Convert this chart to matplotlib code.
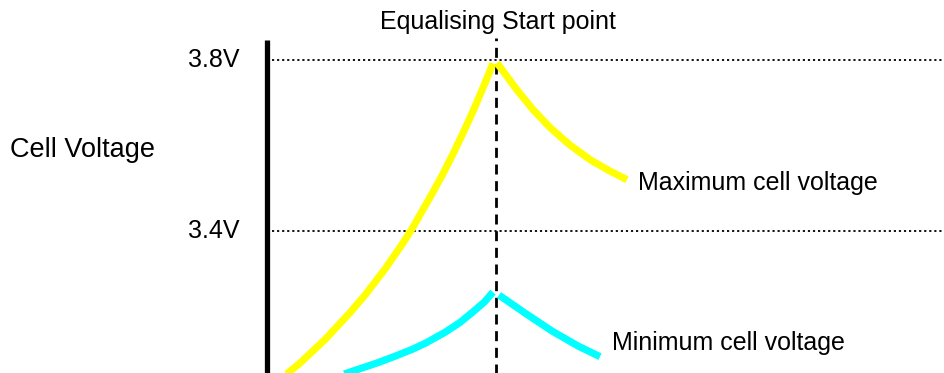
import matplotlib.pyplot as plt

plt.rcParams['font.family'] = ['Liberation Sans', 'DejaVu Sans']

# time (arbitrary units, 0 = axis) and cell voltage
max_rise_t = [13, 21, 33, 58, 83, 98, 118, 136, 145, 155, 166, 176, 186, 196, 206, 216, 226]
max_rise_v = [3.053, 3.068, 3.091, 3.146, 3.209, 3.250, 3.311, 3.372, 3.405, 3.446,
              3.491, 3.534, 3.580, 3.629, 3.680, 3.735, 3.792]
max_fall_t = [230, 250, 266, 283, 303, 323, 343, 360]
max_fall_v = [3.793, 3.730, 3.684, 3.642, 3.601, 3.567, 3.540, 3.520]

min_rise_t = [73, 83, 111, 128, 145, 158, 178, 193, 205, 217, 226]
min_rise_v = [3.062, 3.070, 3.092, 3.107, 3.123, 3.137, 3.163, 3.186, 3.209, 3.233, 3.257]
min_fall_t = [232, 258, 285, 311, 333]
min_fall_v = [3.250, 3.208, 3.166, 3.131, 3.106]

levels = [3.8, 3.4]
level_labels = ['3.8V', '3.4V']
start_t = 229

fig = plt.figure(figsize=(9.45, 3.73), dpi=100)
ax = fig.add_axes([0, 0, 1, 1])
ax.set_xlim(-267, 678)
ax.set_ylim(3.0678, 3.9404)
ax.axis('off')

# reference levels
for v, lab in zip(levels, level_labels):
    ax.plot([5, 678], [v, v], color='black', lw=1.3, linestyle=(0, (1.2, 1.6)))
    ax.text(-27, v, lab, ha='right', va='center', fontsize=18)

# vertical axis and equalising marker
ax.plot([0, 0], [3.0, 3.847], color='black', lw=3.8, solid_capstyle='butt')
ax.plot([start_t, start_t], [3.0, 3.852], color='black', lw=2.0,
        linestyle=(0, (3.6, 2.4)))

# voltage curves
for t, v in [(max_rise_t, max_rise_v), (max_fall_t, max_fall_v)]:
    ax.plot(t, v, color='#ffff00', lw=5.2, solid_capstyle='butt', solid_joinstyle='round')
for t, v in [(min_rise_t, min_rise_v), (min_fall_t, min_fall_v)]:
    ax.plot(t, v, color='#00ffff', lw=5.2, solid_capstyle='butt', solid_joinstyle='round')

ax.text(231, 3.889, 'Equalising Start point', ha='center', va='center', fontsize=18)
ax.text(-257, 3.589, 'Cell Voltage', ha='left', va='center', fontsize=19.5)
ax.text(371, 3.512, 'Maximum cell voltage', ha='left', va='center', fontsize=18)
ax.text(345, 3.138, 'Minimum cell voltage', ha='left', va='center', fontsize=18)

fig.savefig('out.png', dpi=100, facecolor='white')
